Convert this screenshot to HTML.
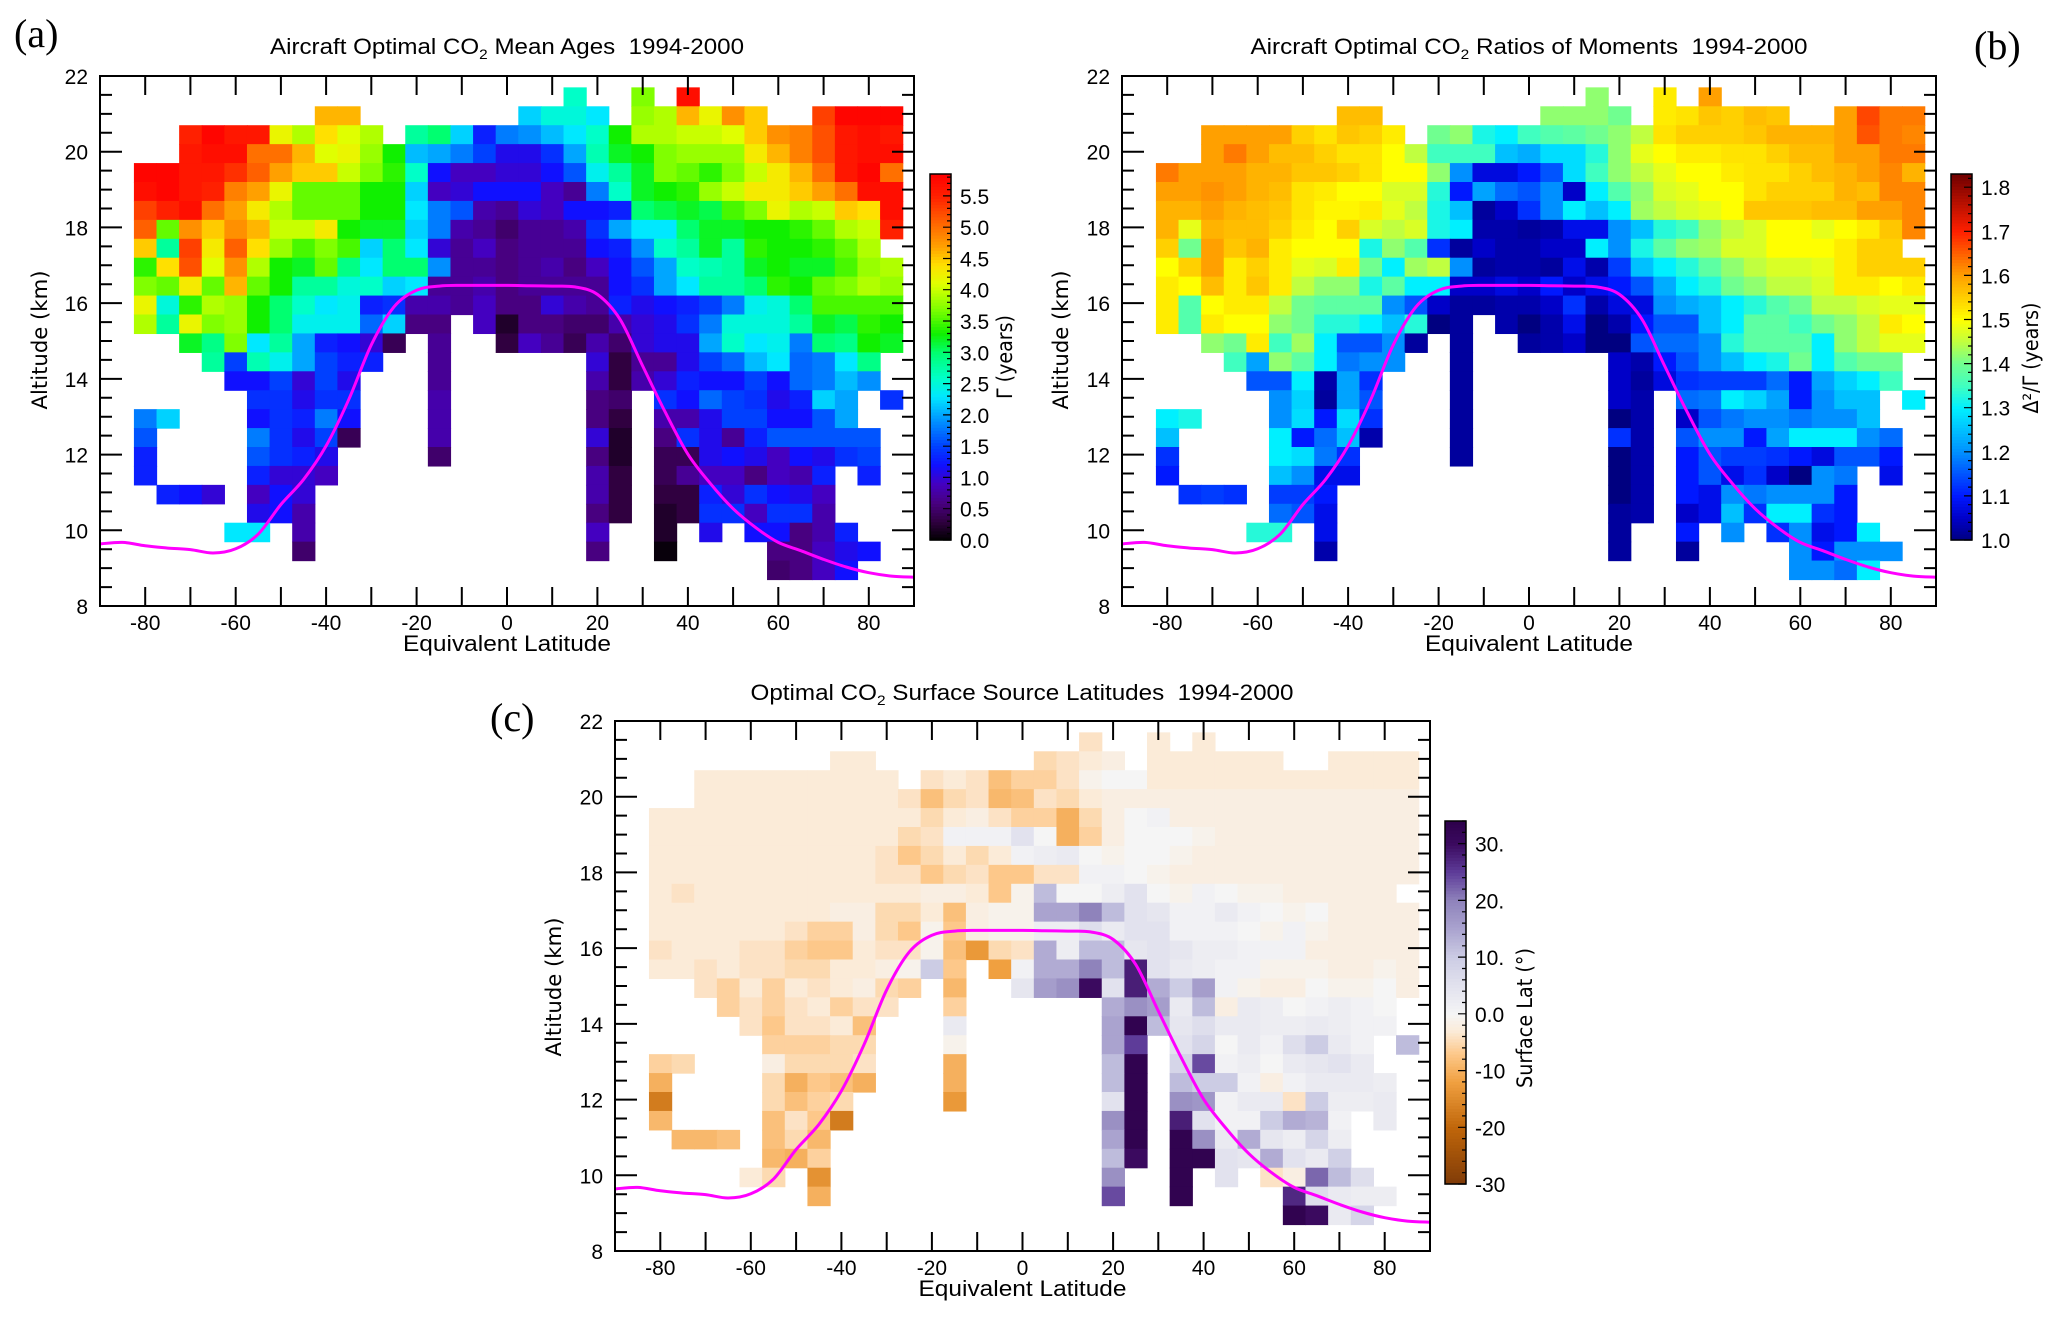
<!DOCTYPE html>
<html><head><meta charset="utf-8">
<style>
body{margin:0;background:#fff}
svg{display:block}
text{font-family:"Liberation Sans","DejaVu Sans",sans-serif;fill:#000}
</style></head>
<body>
<svg id="fig" width="2067" height="1321" viewBox="0 0 2067 1321" xmlns="http://www.w3.org/2000/svg">
<rect x="0" y="0" width="2067" height="1321" fill="#fff"/>
<text x="14" y="47" style="font-family:'Liberation Serif',serif;font-size:40px">(a)</text>
<text x="1974" y="59" style="font-family:'Liberation Serif',serif;font-size:40px">(b)</text>
<text x="490" y="731" style="font-family:'Liberation Serif',serif;font-size:40px">(c)</text>
<text x="507" y="54" text-anchor="middle" font-size="22" textLength="474" lengthAdjust="spacingAndGlyphs" xml:space="preserve">Aircraft Optimal CO<tspan font-size="14" dy="5">2</tspan><tspan dy="-5"> Mean Ages  1994-2000</tspan></text>
<text x="1529" y="54" text-anchor="middle" font-size="22" textLength="557" lengthAdjust="spacingAndGlyphs" xml:space="preserve">Aircraft Optimal CO<tspan font-size="14" dy="5">2</tspan><tspan dy="-5"> Ratios of Moments  1994-2000</tspan></text>
<text x="1022" y="700" text-anchor="middle" font-size="22" textLength="543" lengthAdjust="spacingAndGlyphs" xml:space="preserve">Optimal CO<tspan font-size="14" dy="5">2</tspan><tspan dy="-5"> Surface Source Latitudes  1994-2000</tspan></text>
</svg>
<script>
const _=null;
const latCenters=[-85,-80,-75,-70,-65,-60,-55,-50,-45,-40,-35,-30,-25,-20,-15,-10,-5,0,5,10,15,20,25,30,35,40,45,50,55,60,65,70,75,80,85];
const altCenters=[21.45,20.95,20.45,19.95,19.45,18.95,18.45,17.95,17.45,16.95,16.45,15.95,15.45,14.95,14.45,13.95,13.45,12.95,12.45,11.95,11.45,10.95,10.45,9.95,9.45,8.95];

const meanAgeRows=[
[_,_,_,_,_,_,_,_,_,_,_,_,_,_,_,_,_,_,_,_,2.6,_,_,3.7,_,5.7,_,_,_,_,_,_,_,_,_],
[_,_,_,_,_,_,_,_,_,4.6,4.6,_,_,_,_,_,_,_,2.2,2.5,2.5,2.3,_,3.8,3.9,4.6,4.2,4.8,4.5,_,_,5.3,5.8,5.8,5.8],
[_,_,_,5.5,5.8,5.6,5.6,4.2,3.9,4.4,4.1,3.9,_,2.8,3.0,2.2,1.3,1.8,1.9,2.1,2.3,2.6,3.3,3.9,3.9,4.0,4.0,4.1,4.5,4.8,4.9,5.2,5.6,5.7,5.6],
[_,_,_,5.6,5.7,5.7,5.0,5.0,4.6,4.1,4.2,3.8,3.3,2.1,2.0,1.8,1.5,1.1,1.1,1.4,2.0,2.7,3.2,3.3,3.7,3.8,3.8,3.8,4.3,4.6,4.9,5.2,5.6,5.7,5.7],
[_,5.8,5.8,5.6,5.6,5.4,5.1,4.7,4.5,4.5,4.0,3.7,3.4,2.6,1.2,0.9,0.9,1.0,1.0,1.2,1.6,2.4,2.8,3.2,3.7,3.6,3.4,3.7,4.0,4.3,4.6,5.0,5.6,5.8,5.0],
[_,5.7,5.8,5.6,5.5,4.9,4.7,4.2,3.6,3.6,3.6,3.3,3.3,2.2,0.9,1.0,1.2,1.2,1.2,0.9,0.7,1.8,2.6,3.2,3.3,3.4,3.8,4.0,4.3,4.3,4.5,4.7,5.0,5.7,5.7],
[_,5.3,5.5,5.7,5.0,4.7,4.3,3.9,3.6,3.6,3.6,3.3,3.3,2.3,1.8,1.6,0.8,0.7,1.0,0.9,1.2,1.2,1.3,3.0,3.1,3.2,3.1,3.5,3.7,4.2,3.9,4.0,4.5,4.4,5.7],
[_,5.1,3.6,4.8,4.5,4.8,4.6,4.0,4.0,4.3,3.3,3.2,3.2,2.2,1.8,0.8,0.7,0.5,0.7,0.7,0.8,1.4,2.0,2.3,2.3,3.0,3.2,3.2,3.3,3.3,3.4,3.6,3.9,4.0,5.5],
[_,4.5,2.8,5.3,4.3,5.1,4.4,3.8,3.5,3.7,3.5,2.2,3.0,2.3,1.0,0.7,0.9,0.6,0.7,0.7,0.7,1.2,1.3,1.9,2.6,2.8,3.2,2.8,3.4,3.3,3.3,3.4,3.6,3.9,_],
[_,3.4,4.4,5.2,4.1,4.8,3.9,3.3,3.2,3.6,2.9,2.3,3.0,3.0,1.9,0.7,0.7,0.6,0.7,0.8,0.6,0.9,1.2,1.6,2.0,2.6,2.7,2.8,3.2,3.3,3.2,3.2,3.5,3.8,3.9],
[_,3.7,3.6,4.3,3.6,4.6,3.6,3.3,2.8,2.8,2.5,2.6,2.2,2.3,0.7,0.7,0.8,0.6,0.7,0.7,0.7,0.7,1.2,1.4,2.0,2.3,2.8,2.8,3.0,3.4,3.3,3.6,3.7,3.9,3.8],
[_,4.2,2.5,3.4,3.9,3.8,3.3,3.0,2.6,2.3,2.4,1.3,1.4,0.8,0.8,0.7,0.9,0.6,0.6,1.0,0.8,0.7,1.3,1.1,1.2,1.3,1.5,1.8,2.4,2.5,3.0,3.5,3.5,3.5,3.5],
[_,3.9,2.8,4.2,3.7,3.8,3.3,3.0,2.4,2.4,2.4,1.7,2.2,0.6,0.6,_,0.9,0.2,0.6,0.6,0.5,0.5,0.8,1.0,1.1,1.4,1.8,2.5,2.5,2.5,2.8,3.2,3.1,3.4,3.3],
[_,_,_,3.2,2.9,3.7,2.3,2.8,2.0,1.3,1.2,1.0,0.4,_,0.7,_,_,0.3,0.9,0.7,0.4,0.8,0.5,1.0,1.1,1.1,2.0,2.6,2.3,2.4,1.8,3.0,2.9,3.3,3.2],
[_,_,_,_,2.8,1.5,2.7,2.4,2.0,1.5,1.3,1.3,_,_,0.7,_,_,_,_,_,_,1.0,0.3,0.7,0.7,1.1,1.5,1.7,2.1,2.3,1.7,1.8,2.3,2.9,_],
[_,_,_,_,_,1.2,1.2,1.5,1.0,1.5,1.1,_,_,_,0.7,_,_,_,_,_,_,0.8,0.3,0.8,1.0,1.3,1.2,1.2,1.5,1.2,1.7,1.8,2.1,1.9,_],
[_,_,_,_,_,_,1.4,1.4,1.1,1.4,1.4,_,_,_,0.8,_,_,_,_,_,_,0.6,0.5,_,1.4,1.2,1.7,1.5,1.4,1.1,1.3,2.2,2.0,_,1.4],
[_,1.8,2.2,_,_,_,1.2,1.4,1.3,1.8,1.2,_,_,_,0.8,_,_,_,_,_,_,0.6,0.3,_,0.8,0.8,1.1,1.5,1.5,1.2,1.2,1.6,2.0,_,_],
[_,1.6,_,_,_,_,1.8,1.4,1.1,1.5,0.4,_,_,_,0.8,_,_,_,_,_,_,1.0,0.2,_,0.6,1.4,1.1,0.7,1.3,1.6,1.6,1.6,1.6,1.6,_],
[_,1.3,_,_,_,_,1.6,1.4,1.3,1.1,_,_,_,_,0.5,_,_,_,_,_,_,0.6,0.2,_,0.4,0.4,1.1,1.2,1.1,0.9,1.2,1.1,1.4,1.5,_],
[_,1.3,_,_,_,_,1.3,1.0,1.0,0.9,_,_,_,_,_,_,_,_,_,_,_,0.8,0.3,_,0.4,0.7,0.9,0.9,0.6,0.9,0.8,1.3,_,1.3,_],
[_,_,1.3,1.2,1.0,_,0.9,1.2,1.0,_,_,_,_,_,_,_,_,_,_,_,_,0.8,0.3,_,0.3,0.3,1.3,1.0,1.4,1.2,1.1,0.9,_,_,_],
[_,_,_,_,_,_,1.1,1.2,0.8,_,_,_,_,_,_,_,_,_,_,_,_,0.6,0.3,_,0.2,0.3,1.4,1.4,0.9,1.4,1.4,0.8,_,_,_],
[_,_,_,_,_,2.3,2.3,_,0.8,_,_,_,_,_,_,_,_,_,_,_,_,0.9,_,_,0.2,_,1.1,_,1.2,1.2,0.6,0.8,1.3,_,_],
[_,_,_,_,_,_,_,_,0.5,_,_,_,_,_,_,_,_,_,_,_,_,0.6,_,_,0.05,_,_,_,_,0.6,0.6,0.9,1.1,1.2,_],
[_,_,_,_,_,_,_,_,_,_,_,_,_,_,_,_,_,_,_,_,_,_,_,_,_,_,_,_,_,0.5,0.6,0.9,1.2,_,_]
];

const ratioRows=[
[_,_,_,_,_,_,_,_,_,_,_,_,_,_,_,_,_,_,_,_,1.42,_,_,1.52,_,1.6,_,_,_,_,_,_,_,_,_],
[_,_,_,_,_,_,_,_,_,1.57,1.57,_,_,_,_,_,_,_,1.42,1.42,1.42,1.40,_,1.52,1.53,1.56,1.55,1.57,1.56,_,_,1.6,1.67,1.63,1.63],
[_,_,_,1.6,1.6,1.6,1.6,1.55,1.53,1.56,1.55,1.52,_,1.40,1.42,1.32,1.3,1.35,1.37,1.38,1.40,1.42,1.45,1.53,1.55,1.55,1.55,1.56,1.58,1.58,1.58,1.6,1.66,1.63,1.62],
[_,_,_,1.6,1.63,1.6,1.57,1.57,1.55,1.53,1.53,1.5,1.45,1.35,1.35,1.35,1.25,1.23,1.28,1.28,1.33,1.42,1.48,1.5,1.52,1.52,1.53,1.53,1.55,1.57,1.57,1.6,1.6,1.63,1.63],
[_,1.63,1.6,1.6,1.6,1.58,1.58,1.56,1.56,1.55,1.53,1.5,1.5,1.42,1.2,1.07,1.07,1.1,1.15,1.28,1.35,1.42,1.45,1.48,1.5,1.5,1.52,1.53,1.53,1.55,1.57,1.58,1.6,1.62,1.58],
[_,1.6,1.6,1.61,1.6,1.58,1.57,1.53,1.52,1.5,1.5,1.47,1.47,1.33,1.1,1.22,1.17,1.15,1.2,1.05,1.3,1.37,1.42,1.47,1.48,1.5,1.5,1.53,1.55,1.55,1.55,1.58,1.57,1.62,1.62],
[_,1.58,1.58,1.6,1.58,1.57,1.56,1.53,1.51,1.51,1.52,1.48,1.45,1.32,1.25,1.02,1.05,1.12,1.2,1.3,1.25,1.3,1.43,1.45,1.47,1.48,1.5,1.56,1.56,1.56,1.57,1.57,1.6,1.6,1.62],
[_,1.58,1.48,1.58,1.57,1.57,1.55,1.52,1.5,1.55,1.47,1.45,1.47,1.32,1.3,1.03,1.03,1.02,1.03,1.08,1.08,1.2,1.25,1.33,1.35,1.42,1.45,1.47,1.5,1.5,1.48,1.5,1.52,1.56,1.62],
[_,1.55,1.4,1.6,1.56,1.58,1.52,1.5,1.5,1.5,1.32,1.42,1.37,1.12,1.02,1.05,1.03,1.03,1.05,1.05,1.3,1.2,1.32,1.38,1.42,1.43,1.47,1.47,1.5,1.5,1.5,1.52,1.55,1.55,_],
[_,1.5,1.55,1.6,1.52,1.55,1.52,1.48,1.47,1.52,1.4,1.3,1.43,1.45,1.2,1.02,1.03,1.03,1.02,1.08,1.03,1.13,1.25,1.3,1.33,1.38,1.42,1.45,1.47,1.47,1.48,1.52,1.55,1.55,1.55],
[_,1.52,1.5,1.57,1.52,1.56,1.52,1.45,1.42,1.42,1.32,1.38,1.3,1.3,1.05,1.05,1.07,1.05,1.1,1.05,1.08,1.1,1.15,1.23,1.3,1.33,1.4,1.42,1.45,1.45,1.47,1.52,1.52,1.5,1.52],
[_,1.52,1.37,1.5,1.52,1.52,1.45,1.4,1.38,1.38,1.38,1.2,1.15,1.05,1.02,1.02,1.03,1.03,1.05,1.12,1.03,1.07,1.07,1.2,1.23,1.25,1.3,1.33,1.37,1.4,1.45,1.45,1.47,1.48,1.48],
[_,1.52,1.37,1.52,1.5,1.5,1.42,1.4,1.33,1.33,1.3,1.25,1.33,1.0,1.02,_,1.03,1.0,1.03,1.08,1.0,1.03,1.1,1.15,1.15,1.25,1.3,1.38,1.38,1.35,1.4,1.42,1.45,1.52,1.5],
[_,_,_,1.42,1.4,1.52,1.35,1.43,1.3,1.15,1.15,1.2,1.02,_,1.02,_,_,1.02,1.03,1.05,1.0,1.0,1.15,1.17,1.17,1.2,1.33,1.38,1.38,1.38,1.3,1.42,1.45,1.48,1.48],
[_,_,_,_,1.35,1.22,1.42,1.38,1.3,1.18,1.2,1.2,_,_,1.02,_,_,_,_,_,_,1.05,1.03,1.1,1.15,1.2,1.25,1.3,1.32,1.4,1.3,1.37,1.4,1.4,_],
[_,_,_,_,_,1.15,1.15,1.3,1.03,1.22,1.12,_,_,_,1.02,_,_,_,_,_,_,1.05,1.02,1.07,1.12,1.13,1.13,1.13,1.17,1.1,1.22,1.27,1.3,1.35,_],
[_,_,_,_,_,_,1.2,1.27,1.02,1.22,1.15,_,_,_,1.02,_,_,_,_,_,_,1.05,1.03,_,1.17,1.18,1.3,1.27,1.22,1.1,1.2,1.25,1.25,_,1.3],
[_,1.3,1.32,_,_,_,1.2,1.28,1.1,1.28,1.12,_,_,_,1.02,_,_,_,_,_,_,1.0,1.03,_,1.05,1.15,1.18,1.2,1.2,1.18,1.2,1.2,1.25,_,_],
[_,1.25,_,_,_,_,1.3,1.1,1.17,1.25,1.03,_,_,_,1.02,_,_,_,_,_,_,1.12,1.03,_,1.15,1.2,1.2,1.1,1.22,1.3,1.3,1.3,1.2,1.17,_],
[_,1.12,_,_,_,_,1.3,1.28,1.18,1.12,_,_,_,_,1.02,_,_,_,_,_,_,1.0,1.03,_,1.1,1.15,1.13,1.13,1.12,1.1,1.07,1.15,1.15,1.1,_],
[_,1.1,_,_,_,_,1.25,1.2,1.08,1.08,_,_,_,_,_,_,_,_,_,_,_,1.0,1.03,_,1.1,1.15,1.08,1.12,1.05,1.0,1.2,1.18,_,1.08,_],
[_,_,1.12,1.13,1.12,_,1.13,1.13,1.1,_,_,_,_,_,_,_,_,_,_,_,_,1.0,1.03,_,1.1,1.08,1.2,1.18,1.2,1.2,1.2,1.1,_,_,_],
[_,_,_,_,_,_,1.17,1.15,1.08,_,_,_,_,_,_,_,_,_,_,_,_,1.02,1.03,_,1.05,1.08,1.25,1.12,1.3,1.3,1.12,1.1,_,_,_],
[_,_,_,_,_,1.33,1.33,_,1.08,_,_,_,_,_,_,_,_,_,_,_,_,1.02,_,_,1.1,_,1.2,_,1.12,1.2,1.08,1.1,1.3,_,_],
[_,_,_,_,_,_,_,_,1.03,_,_,_,_,_,_,_,_,_,_,_,_,1.02,_,_,1.02,_,_,_,_,1.2,1.1,1.2,1.2,1.2,_],
[_,_,_,_,_,_,_,_,_,_,_,_,_,_,_,_,_,_,_,_,_,_,_,_,_,_,_,_,_,1.2,1.2,1.17,1.3,_,_]
];

const sourceLatRows=[
[_,_,_,_,_,_,_,_,_,_,_,_,_,_,_,_,_,_,_,_,-4,_,_,-3,_,-3,_,_,_,_,_,_,_,_,_],
[_,_,_,_,_,_,_,_,_,-3,-3,_,_,_,_,_,_,_,-5,-4,-3,-2,_,-3,-3,-3,-3,-3,-3,_,_,-3,-3,-3,-3],
[_,_,_,-3,-3,-3,-3,-3,-3,-3,-3,-3,_,-4,-3,-4,-8,-6,-6,-4,-1,0,0,-3,-3,-3,-3,-3,-3,-3,-3,-3,-3,-3,-3],
[_,_,_,-3,-3,-3,-3,-3,-3,-3,-3,-3,-4,-8,-5,-4,-9,-8,-4,-5,-3,-2,-2,-2,-2,-2,-2,-2,-2,-2,-2,-2,-2,-2,-2],
[_,-3,-3,-3,-3,-3,-3,-3,-3,-3,-3,-3,-3,-5,-3,-2,-4,-6,-6,-10,-5,-2,0,1,-2,-2,-2,-2,-2,-2,-2,-2,-2,-2,-2],
[_,-3,-3,-3,-3,-3,-3,-3,-3,-3,-3,-3,-5,-4,1,1,1,5,0,-10,-6,-2,0,0,0,-1,-2,-2,-2,-2,-2,-2,-2,-2,-2],
[_,-3,-3,-3,-3,-3,-3,-3,-3,-3,-3,-4,-7,-5,-3,-5,-3,1,2,3,0,-1,0,0,-1,-2,-2,-2,-2,-2,-2,-2,-2,-2,-2],
[_,-3,-3,-3,-3,-3,-3,-3,-3,-3,-3,-4,-4,-7,-5,-4,-7,-7,-4,-4,1,1,0,-1,-2,-2,-2,-2,-2,-2,-2,-2,-2,-2,-2],
[_,-3,-4,-3,-3,-3,-3,-3,-3,-3,-3,-3,-3,-2,-2,-3,-7,-1,12,0,0,2,5,0,-1,1,0,-1,-1,-2,-2,-2,-2,-2,_],
[_,-3,-3,-3,-3,-3,-3,-3,-3,-2,-2,-5,-5,-3,-8,-2,-1,-1,15,15,20,12,5,4,1,1,3,1,0,-1,0,-2,-2,-2,-2],
[_,-3,-3,-3,-3,-3,-3,-4,-6,-6,-2,-5,-7,-1,-7,-2,-1,-1,2,2,6,3,5,5,1,1,1,0,-1,1,-1,-2,-2,-2,-2],
[_,-4,-3,-3,-3,-4,-4,-6,-7,-7,-3,-4,-4,-1,-8,-13,-5,-4,14,2,12,12,4,5,4,2,2,1,1,1,-2,-2,-2,-2,-2],
[_,-3,-3,-4,-3,-4,-4,-5,-5,-3,-3,-2,-1,10,-7,_,-12,1,14,14,20,12,28,5,3,2,1,1,-1,-1,-1,-2,-2,-1,-2],
[_,_,_,-4,-6,-3,-6,-3,-4,-3,-2,-5,-6,_,-9,_,_,4,16,18,30,5,28,14,10,16,1,-1,-2,-2,0,-1,-1,0,-2],
[_,_,_,_,-6,-4,-6,-4,-3,-6,-4,-4,_,_,-6,_,_,_,_,_,_,14,18,16,3,12,-2,3,2,0,1,2,1,0,_],
[_,_,_,_,_,-4,-7,-4,-4,-3,-8,_,_,_,3,_,_,_,_,_,_,15,33,12,4,6,3,3,2,2,3,2,1,1,_],
[_,_,_,_,_,_,-6,-6,-6,-5,-5,_,_,_,-1,_,_,_,_,_,_,15,25,_,5,8,0,3,1,6,10,3,1,_,12],
[_,-6,-5,_,_,_,-2,-5,-5,-5,-4,_,_,_,-10,_,_,_,_,_,_,12,33,_,8,24,1,2,0,3,4,5,3,_,_],
[_,-10,_,_,_,_,-5,-10,-7,-8,-10,_,_,_,-10,_,_,_,_,_,_,12,33,_,12,10,10,1,-2,1,3,3,3,2,_],
[_,-17,_,_,_,_,-5,-8,-6,-5,_,_,_,_,-13,_,_,_,_,_,_,5,33,_,18,17,1,3,3,-4,10,2,2,3,_],
[_,-9,_,_,_,_,-8,-4,-7,-17,_,_,_,_,_,_,_,_,_,_,_,18,33,_,28,5,1,1,10,14,13,1,_,3,_],
[_,_,-9,-9,-8,_,-8,-5,-9,_,_,_,_,_,_,_,_,_,_,_,_,15,33,_,33,18,3,14,4,2,8,2,_,_,_],
[_,_,_,_,_,_,-9,-10,-6,_,_,_,_,_,_,_,_,_,_,_,_,12,30,_,33,33,5,4,14,5,3,9,_,_,_],
[_,_,_,_,_,-3,-5,_,-14,_,_,_,_,_,_,_,_,_,_,_,_,18,_,_,33,_,5,_,-4,-2,22,12,6,_,_],
[_,_,_,_,_,_,_,_,-10,_,_,_,_,_,_,_,_,_,_,_,_,24,_,_,33,_,_,_,_,27,6,3,2,2,_],
[_,_,_,_,_,_,_,_,_,_,_,_,_,_,_,_,_,_,_,_,_,_,_,_,_,_,_,_,_,33,30,3,8,_,_]
];

const tropLat=[-90,-85,-80,-75,-70,-65,-60,-55,-50,-45,-40,-35,-30,-25,-20,-15,-10,-5,0,5,10,15,20,25,30,35,40,45,50,55,60,65,70,75,80,85,90];
const tropAlt=[9.64,9.68,9.59,9.53,9.49,9.40,9.51,9.90,10.68,11.34,12.23,13.45,14.9,15.9,16.34,16.45,16.47,16.47,16.47,16.46,16.45,16.43,16.23,15.57,14.34,13.12,12.01,11.23,10.57,10.07,9.68,9.46,9.23,9.03,8.88,8.79,8.76];

const xTickLabels=[-80,-60,-40,-20,0,20,40,60,80];
const yTickLabels=[8,10,12,14,16,18,20,22];
const ageTicks=[0,0.5,1,1.5,2,2.5,3,3.5,4,4.5,5,5.5];
const ageTickText=["0.0","0.5","1.0","1.5","2.0","2.5","3.0","3.5","4.0","4.5","5.0","5.5"];
const ratioTicks=[1.0,1.1,1.2,1.3,1.4,1.5,1.6,1.7,1.8];
const ratioTickText=["1.0","1.1","1.2","1.3","1.4","1.5","1.6","1.7","1.8"];
const srcTicks=[30,20,10,0,-10,-20,-30];
const srcTickText=["30.","20.","10.","0.0","-10","-20","-30"];

const NS="http://www.w3.org/2000/svg";
const svg=document.getElementById('fig');
function mk(tag,parent){const e=document.createElementNS(NS,tag);parent.appendChild(e);return e;}
function hex(h){return [parseInt(h.slice(1,3),16),parseInt(h.slice(3,5),16),parseInt(h.slice(5,7),16)];}
function makeCmap(stops){
  return function(v){
    if(v<=stops[0][0]) return stops[0][1];
    if(v>=stops[stops.length-1][0]) return stops[stops.length-1][1];
    for(let i=0;i<stops.length-1;i++){
      const a=stops[i],b=stops[i+1];
      if(v>=a[0]&&v<=b[0]){
        const t=(v-a[0])/(b[0]-a[0]);const ca=hex(a[1]),cb=hex(b[1]);
        return 'rgb('+ca.map((c,k)=>Math.round(c+(cb[k]-c)*t)).join(',')+')';
      }
    }
  };
}
const ageCmap=makeCmap([[0,'#000000'],[0.3,'#300040'],[0.6,'#480080'],[0.9,'#4400c0'],[1.2,'#1010ff'],[1.5,'#0040ff'],[1.9,'#0090ff'],[2.3,'#00e8ff'],[2.6,'#00ffc8'],[3.0,'#00ff70'],[3.3,'#10f000'],[3.7,'#80ff00'],[4.1,'#e0ff00'],[4.4,'#ffe000'],[4.7,'#ffa000'],[5.1,'#ff6000'],[5.5,'#ff2000'],[5.85,'#ff0000']]);
const ratioCmap=makeCmap([[1.0,'#000080'],[1.05,'#0000c8'],[1.1,'#0018ff'],[1.2,'#0090ff'],[1.3,'#00f0ff'],[1.35,'#40ffc0'],[1.4,'#70ff90'],[1.45,'#c0ff40'],[1.5,'#ffff00'],[1.6,'#ffa000'],[1.7,'#ff2000'],[1.83,'#700000']]);
const srcCmap=makeCmap([[-30,'#7f3b08'],[-20,'#c0660a'],[-12,'#f0a040'],[-7,'#fdc88a'],[-3,'#fbebd8'],[0,'#f5f5f5'],[5,'#e2e2ee'],[10,'#cccce4'],[15,'#aaa3cf'],[20,'#8f83bb'],[25,'#5e3c99'],[30,'#3b0a5f'],[34,'#2d004b']]);

function drawPanel(p,rows,cmap,key){
  const X=v=>p.x0+(v+90)/180*(p.x1-p.x0);
  const Y=v=>p.y1-(v-8)/14*(p.y1-p.y0);
  const g=mk('g',svg);
  
  
  rows.forEach((row,ri)=>{
    for(let ci=0;ci<latCenters.length;ci++){
      const v=row[ci];
      if(v===null||v===undefined) continue;
      const lat=latCenters[ci],alt=altCenters[ri];
      const x=X(lat-2.5),x2=X(lat+2.5),y=Y(alt+0.25),y2=Y(alt-0.25);
      const r=mk('rect',g);
      
      
      r.setAttribute('x',x.toFixed(2));r.setAttribute('y',y.toFixed(2));
      r.setAttribute('width',(x2-x+0.6).toFixed(2));r.setAttribute('height',(y2-y+0.6).toFixed(2));
      r.setAttribute('fill',cmap(v));
    }
  });
  // tropopause
  const cp=mk('clipPath',svg);cp.setAttribute('id','clip-'+key);
  const cr=mk('rect',cp);cr.setAttribute('x',p.x0);cr.setAttribute('y',p.y0);cr.setAttribute('width',p.x1-p.x0);cr.setAttribute('height',p.y1-p.y0);
  const pts=tropLat.map((la,i)=>[X(la),Y(tropAlt[i])]);
  let d='M'+pts[0][0].toFixed(1)+','+pts[0][1].toFixed(1);
  for(let i=0;i<pts.length-1;i++){
    const p0=pts[Math.max(0,i-1)],p1=pts[i],p2=pts[i+1],p3=pts[Math.min(pts.length-1,i+2)];
    const c1=[p1[0]+(p2[0]-p0[0])/6,p1[1]+(p2[1]-p0[1])/6];
    const c2=[p2[0]-(p3[0]-p1[0])/6,p2[1]-(p3[1]-p1[1])/6];
    d+=' C'+c1[0].toFixed(1)+','+c1[1].toFixed(1)+' '+c2[0].toFixed(1)+','+c2[1].toFixed(1)+' '+p2[0].toFixed(1)+','+p2[1].toFixed(1);
  }
  const tl=mk('path',svg);
  
  
  tl.setAttribute('d',d);tl.setAttribute('fill','none');tl.setAttribute('stroke','#ff00ff');tl.setAttribute('stroke-width','3');
  tl.setAttribute('clip-path','url(#clip-'+key+')');
  // frame
  const fr=mk('rect',svg);
  
  
  fr.setAttribute('x',p.x0);fr.setAttribute('y',p.y0);fr.setAttribute('width',p.x1-p.x0);fr.setAttribute('height',p.y1-p.y0);
  fr.setAttribute('fill','none');fr.setAttribute('stroke','#000');fr.setAttribute('stroke-width','2');
  const tg=mk('g',svg);
  
  
  tg.setAttribute('stroke','#000');tg.setAttribute('stroke-width','2');
  let td='';
  for(let la=-80;la<=80;la+=10){const x=X(la).toFixed(1);td+='M'+x+','+p.y1+'v-19M'+x+','+p.y0+'v19';}
  for(let k=1;k<28;k++){const a=8+k*0.5;const y=Y(a).toFixed(1);const L=(a%2===0)?22:12;td+='M'+p.x0+','+y+'h'+L+'M'+p.x1+','+y+'h-'+L;}
  const tp=mk('path',tg);tp.setAttribute('d',td);
  xTickLabels.forEach(v=>{
    const t=mk('text',svg);
    
    
    t.setAttribute('x',X(v).toFixed(1));t.setAttribute('y',p.y1+24);t.setAttribute('text-anchor','middle');t.setAttribute('font-size','21');
    t.textContent=String(v);
  });
  yTickLabels.forEach(v=>{
    const t=mk('text',svg);
    
    
    t.setAttribute('x',p.x0-12);t.setAttribute('y',(Y(v)+8).toFixed(1));t.setAttribute('text-anchor','end');t.setAttribute('font-size','21');
    t.textContent=String(v);
  });
  const xt=mk('text',svg);
  
  
  xt.setAttribute('x',(p.x0+p.x1)/2);xt.setAttribute('y',p.y1+45);xt.setAttribute('text-anchor','middle');xt.setAttribute('font-size','22');
  xt.setAttribute('textLength','208');xt.setAttribute('lengthAdjust','spacingAndGlyphs');
  xt.textContent='Equivalent Latitude';
  const yt=mk('text',svg);
  
  
  yt.setAttribute('transform','translate('+p.ytx+','+p.yty+') rotate(-90)');
  yt.setAttribute('text-anchor','middle');yt.setAttribute('font-size','21');
  yt.setAttribute('textLength','139');yt.setAttribute('lengthAdjust','spacingAndGlyphs');
  yt.setAttribute('style','font-family:"DejaVu Sans",sans-serif');
  yt.textContent='Altitude (km)';
}

function drawColorbar(cb,cmap,ticks,texts,minorStep,key,label,labelLen){
  const V=v=>cb.y1-(v-cb.vmin)/(cb.vmax-cb.vmin)*(cb.y1-cb.y0);
  const g=mk('g',svg);
  
  
  const n=120;
  for(let i=0;i<n;i++){
    const v0=cb.vmin+(cb.vmax-cb.vmin)*i/n,v1=cb.vmin+(cb.vmax-cb.vmin)*(i+1)/n;
    const r=mk('rect',g);
    
    
    r.setAttribute('x',cb.x0);r.setAttribute('y',V(v1).toFixed(2));r.setAttribute('width',cb.x1-cb.x0);r.setAttribute('height',(V(v0)-V(v1)+0.6).toFixed(2));
    r.setAttribute('fill',cmap((v0+v1)/2));
  }
  const f=mk('rect',g);
  
  
  f.setAttribute('x',cb.x0);f.setAttribute('y',cb.y0);f.setAttribute('width',cb.x1-cb.x0);f.setAttribute('height',cb.y1-cb.y0);
  f.setAttribute('fill','none');f.setAttribute('stroke','#000');f.setAttribute('stroke-width','1.5');
  let d='';
  for(let v=cb.vmin;v<=cb.vmax+1e-9;v+=minorStep){d+='M'+cb.x1+','+V(v).toFixed(1)+'h-4';}
  ticks.forEach(v=>{d+='M'+cb.x1+','+V(v).toFixed(1)+'h-8';});
  const tk=mk('path',g);tk.setAttribute('d',d);tk.setAttribute('stroke','#000');tk.setAttribute('stroke-width','1.2');
  ticks.forEach((v,i)=>{
    const t=mk('text',svg);
    
    
    t.setAttribute('x',cb.x1+9);t.setAttribute('y',(V(v)+8).toFixed(1));t.setAttribute('font-size','21');
    t.textContent=texts[i];
  });
  const lt=mk('text',svg);
  
  
  lt.setAttribute('transform','translate('+cb.lx+','+cb.ly+') rotate(-90)');
  lt.setAttribute('text-anchor','middle');lt.setAttribute('font-size','21');
  lt.setAttribute('textLength',labelLen);lt.setAttribute('lengthAdjust','spacingAndGlyphs');
  lt.setAttribute('style','font-family:"DejaVu Sans",sans-serif');
  lt.textContent=label;
}

drawPanel({x0:100,x1:914,y0:76,y1:606,ytx:47,yty:340},meanAgeRows,ageCmap,'mean-age');
drawPanel({x0:1122,x1:1936,y0:76,y1:606,ytx:1068,yty:340},ratioRows,ratioCmap,'ratio');
drawPanel({x0:615,x1:1430,y0:721,y1:1251,ytx:561,yty:987},sourceLatRows,srcCmap,'source-lat');
drawColorbar({x0:930,x1:951,y0:174,y1:540,vmin:0,vmax:5.85,lx:1012,ly:357},ageCmap,ageTicks,ageTickText,0.1,'mean-age','Γ (years)','84');
drawColorbar({x0:1951,x1:1972,y0:174,y1:540,vmin:1.0,vmax:1.83,lx:2038,ly:358},ratioCmap,ratioTicks,ratioTickText,0.02,'ratio','Δ²/Γ (years)','111');
drawColorbar({x0:1445,x1:1466,y0:821,y1:1184,vmin:-30,vmax:34,lx:1532,ly:1018},srcCmap,srcTicks,srcTickText,2,'source-lat','Surface Lat (°)','140');
</script>
</body></html>
